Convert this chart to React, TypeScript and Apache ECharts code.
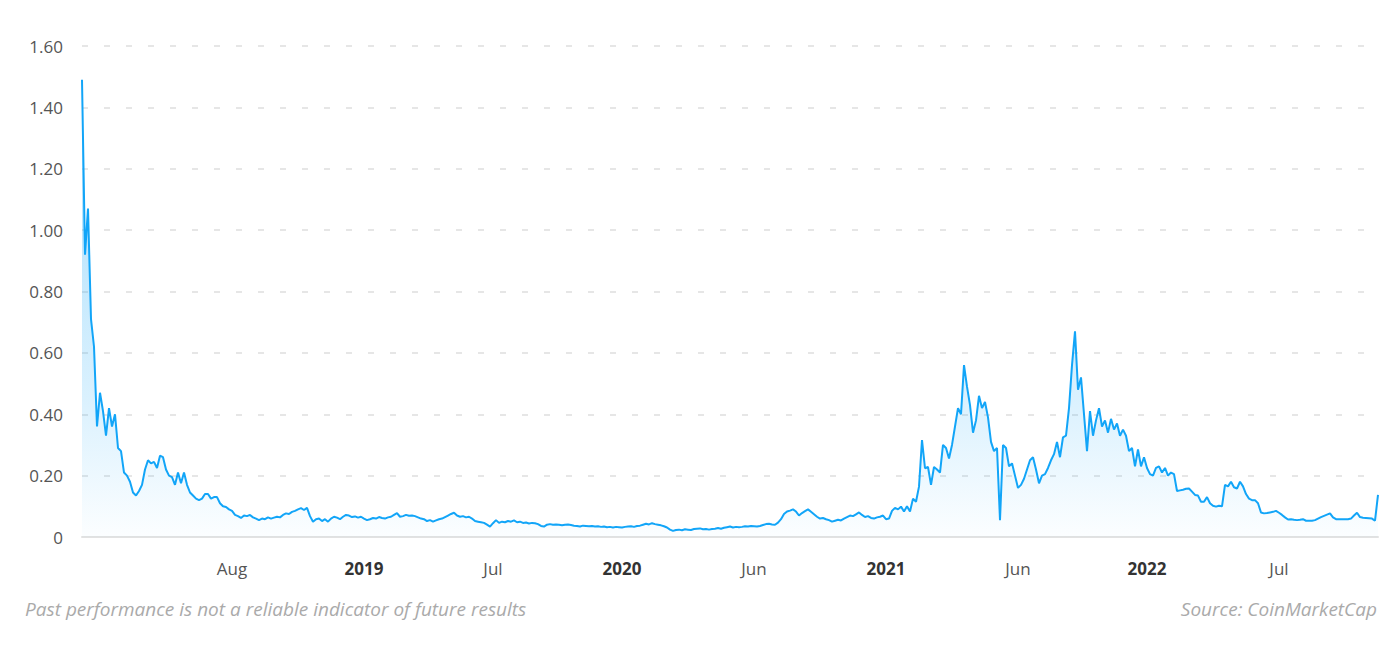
import React, { useEffect, useRef } from "react";
import * as echarts from "echarts";

// Price values (USD), evenly spaced samples, split by period
const price2018 = [
  1.49, 0.92, 1.07, 0.71, 0.62, 0.36, 0.47, 0.41, 0.33, 0.42,
  0.36, 0.40, 0.29, 0.28, 0.21, 0.20, 0.18, 0.145, 0.135, 0.15,
  0.17, 0.22, 0.25, 0.24, 0.245, 0.225, 0.265, 0.26, 0.22, 0.20,
  0.195, 0.17, 0.21, 0.175, 0.21, 0.17, 0.145, 0.135, 0.125, 0.12,
  0.125, 0.14, 0.14, 0.125, 0.13, 0.13, 0.11, 0.10, 0.098, 0.09,
  0.085, 0.072, 0.068, 0.062, 0.07, 0.068, 0.072, 0.064, 0.06, 0.055,
  0.06, 0.058, 0.064, 0.06, 0.063, 0.066, 0.064, 0.072, 0.077, 0.075,
  0.082, 0.085, 0.09, 0.094, 0.088, 0.095, 0.068, 0.05, 0.058, 0.06,
  0.052, 0.058, 0.05, 0.06, 0.066, 0.063, 0.058, 0.066, 0.072, 0.07,
  0.065, 0.067, 0.063, 0.066,
];
const price2019 = [
  0.06, 0.055, 0.058, 0.062, 0.06, 0.065, 0.062, 0.06, 0.064, 0.066,
  0.072, 0.078, 0.066, 0.068, 0.072, 0.069, 0.07, 0.068, 0.064, 0.06,
  0.058, 0.052, 0.055, 0.05, 0.054, 0.058, 0.06, 0.065, 0.07, 0.075,
  0.079, 0.07, 0.066, 0.068, 0.064, 0.066, 0.06, 0.052, 0.05, 0.048,
  0.046, 0.04, 0.034, 0.045, 0.055, 0.046, 0.05, 0.048, 0.052, 0.05,
  0.054, 0.048, 0.05, 0.046, 0.047, 0.044, 0.046, 0.045, 0.042, 0.036,
  0.034, 0.04, 0.042, 0.04, 0.041, 0.04, 0.038, 0.04, 0.041, 0.039,
  0.037, 0.036, 0.034, 0.037, 0.036, 0.035, 0.036, 0.034, 0.035, 0.033,
  0.034, 0.032, 0.033, 0.031, 0.033, 0.032,
];
const price2020 = [
  0.031, 0.033, 0.034, 0.035, 0.033, 0.036, 0.037, 0.04, 0.043, 0.041,
  0.045, 0.042, 0.04, 0.038, 0.035, 0.031, 0.024, 0.02, 0.023, 0.024,
  0.022, 0.025, 0.024, 0.023, 0.026, 0.027, 0.028, 0.025, 0.026, 0.024,
  0.026, 0.027, 0.029, 0.027, 0.03, 0.032, 0.034, 0.031, 0.033, 0.032,
  0.033, 0.035, 0.034, 0.036, 0.035, 0.034, 0.036, 0.039, 0.042, 0.043,
  0.041, 0.04, 0.047, 0.058, 0.075, 0.083, 0.086, 0.09, 0.083, 0.07,
  0.078, 0.084, 0.09, 0.082, 0.074, 0.066, 0.06, 0.062, 0.058, 0.055,
  0.05, 0.053, 0.056, 0.054, 0.06, 0.065, 0.07, 0.068, 0.074, 0.08,
  0.072, 0.065, 0.068, 0.062, 0.06, 0.064, 0.066, 0.07,
];
const price2021 = [
  0.058, 0.06, 0.085, 0.095, 0.09, 0.099, 0.083, 0.10, 0.083, 0.125,
  0.115, 0.164, 0.316, 0.224, 0.228, 0.17, 0.228, 0.22, 0.21, 0.30,
  0.29, 0.256, 0.30, 0.36, 0.42, 0.40, 0.56, 0.49, 0.43, 0.34,
  0.38, 0.46, 0.42, 0.44, 0.39, 0.31, 0.28, 0.29, 0.055, 0.30,
  0.29, 0.23, 0.24, 0.20, 0.16, 0.17, 0.19, 0.22, 0.25, 0.26,
  0.22, 0.175, 0.20, 0.205, 0.225, 0.25, 0.27, 0.31, 0.26, 0.325,
  0.33, 0.42, 0.56, 0.67, 0.48, 0.52, 0.40, 0.28, 0.41, 0.33,
  0.38, 0.42, 0.36, 0.38, 0.34, 0.385, 0.35, 0.37, 0.33, 0.35,
  0.33, 0.28, 0.29, 0.23, 0.285, 0.23, 0.26,
];
const price2022 = [
  0.225, 0.205, 0.20, 0.225, 0.23, 0.21, 0.225, 0.20, 0.21, 0.205,
  0.15, 0.152, 0.154, 0.157, 0.158, 0.148, 0.137, 0.135, 0.115, 0.115,
  0.13, 0.11, 0.102, 0.099, 0.102, 0.10, 0.17, 0.165, 0.18, 0.162,
  0.158, 0.18, 0.165, 0.14, 0.125, 0.12, 0.12, 0.11, 0.08, 0.077,
  0.078, 0.08, 0.082, 0.085, 0.079, 0.072, 0.064, 0.057, 0.058, 0.056,
  0.055, 0.056, 0.058, 0.053, 0.053, 0.053, 0.055, 0.06, 0.065, 0.069,
  0.073, 0.077, 0.064, 0.058, 0.058, 0.058, 0.058, 0.058, 0.06, 0.07,
  0.079, 0.065, 0.063, 0.062, 0.061, 0.06, 0.053, 0.137,
];

// X tick labels and the sample index where each one sits
const xTickText = ["Aug", "2019", "Jul", "2020", "Jun", "2021", "Jun", "2022", "Jul"];
const xTickIndex = [50, 94, 137, 180, 224, 268, 312, 355, 399];
const xTickBold = [false, true, false, true, false, true, false, true, false];

const yMin = 0;
const yMax = 1.6;
const yStep = 0.2;

const footLeft = "Past performance is not a reliable indicator of future results";
const footRight = "Source: CoinMarketCap";

const FONT = "'Open Sans', 'Noto Sans', sans-serif";

export default function App() {
  const ref = useRef<HTMLDivElement>(null);

  useEffect(() => {
    if (!ref.current) return;
    const chart = echarts.init(ref.current, null, { renderer: "svg" });
    const prices = [...price2018, ...price2019, ...price2020, ...price2021, ...price2022];
    const categories = prices.map((_, i) => String(i));
    const tickMap: Record<number, number> = {};
    xTickIndex.forEach((idx, k) => (tickMap[idx] = k));

    chart.setOption({
      animation: false,
      grid: { left: 82, right: 22, top: 46, bottom: 112, containLabel: false },
      xAxis: {
        type: "category",
        data: categories,
        boundaryGap: false,
        axisLine: { show: true, lineStyle: { color: "#e2e2e2", width: 2 } },
        axisTick: { show: false },
        splitLine: { show: false },
        axisLabel: {
          interval: (index: number) => tickMap[index] !== undefined,
          margin: 23,
          formatter: (_v: string, index: number) => {
            const k = tickMap[index];
            if (k === undefined) return "";
            return xTickBold[k] ? `{b|${xTickText[k]}}` : `{n|${xTickText[k]}}`;
          },
          rich: {
            b: { fontFamily: FONT, fontSize: 17, fontWeight: "bold", color: "#333" },
            n: { fontFamily: FONT, fontSize: 17, color: "#555" },
          },
        },
      },
      yAxis: {
        type: "value",
        min: yMin,
        max: yMax,
        interval: yStep,
        axisLine: { show: false },
        axisTick: { show: false },
        axisLabel: {
          margin: 19,
          fontFamily: FONT,
          fontSize: 17,
          color: "#555",
          formatter: (v: number) => (v === 0 ? "0" : v.toFixed(2)),
        },
        splitLine: {
          show: true,
          lineStyle: { color: "#dedede", width: 1.5, type: [6, 16] },
        },
      },
      series: [
        {
          type: "line",
          data: prices,
          showSymbol: false,
          symbol: "none",
          lineStyle: { color: "#12a5f8", width: 2 },
          itemStyle: { color: "#12a5f8" },
          areaStyle: {
            color: new echarts.graphic.LinearGradient(0, 0, 0, 1, [
              { offset: 0, color: "rgba(18,165,248,0.55)" },
              { offset: 0.7, color: "rgba(18,165,248,0.22)" },
              { offset: 1, color: "rgba(18,165,248,0.02)" },
            ]),
          },
        },
      ],
      graphic: [
        {
          type: "text",
          left: 25,
          top: 599,
          style: {
            text: footLeft,
            fontFamily: FONT,
            fontSize: 19,
            fontStyle: "italic",
            fill: "#aaaaaa",
          },
        },
        {
          type: "text",
          right: 23,
          top: 599,
          style: {
            text: footRight,
            fontFamily: FONT,
            fontSize: 19,
            fontStyle: "italic",
            fill: "#aaaaaa",
          },
        },
      ],
    });
    return () => chart.dispose();
  }, []);

  return (
    <div
      ref={ref}
      style={{ position: "fixed", left: 0, top: 0, width: 1400, height: 649, background: "#fff" }}
    />
  );
}
